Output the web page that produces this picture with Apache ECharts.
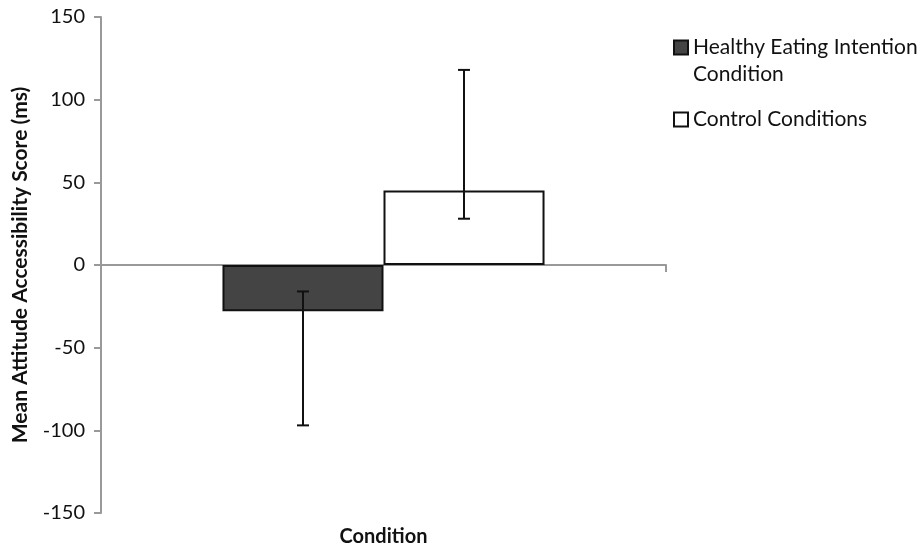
<!DOCTYPE html>
<html>
<head>
<meta charset="utf-8">
<script src="https://cdn.jsdelivr.net/npm/echarts@6/dist/echarts.min.js"></script>
<style>html,body{margin:0;padding:0;background:#fff;}#chart{width:923px;height:549px;}</style>
</head>
<body>
<div id="chart"></div>
<script>
const categories = ['Condition'];
const seriesNames = ['Healthy Eating Intention\nCondition', 'Control Conditions'];
const healthyValues = [-28];
const controlValues = [45];
const healthyErrLow = [-97];
const healthyErrHigh = [-16];
const controlErrLow = [28];
const controlErrHigh = [118];
const yTicks = { min: -150, max: 150, interval: 50 };

const BAR_FRAC = 0.285;
const FONT = 'Lato';

function errorSeries(lows, highs, side) {
  return {
    type: 'custom',
    xAxisIndex: 0,
    z: 10,
    silent: true,
    data: lows.map((l, i) => [i, l, highs[i]]),
    renderItem: function (params, api) {
      const band = api.size([1, 0])[0];
      const off = side * band * BAR_FRAC / 2;
      const lo = api.coord([api.value(0), api.value(1)]);
      const hi = api.coord([api.value(0), api.value(2)]);
      const x = lo[0] + off;
      const cap = 6;
      const style = { stroke: '#111', lineWidth: 2 };
      return {
        type: 'group',
        children: [
          { type: 'line', shape: { x1: x, y1: lo[1], x2: x, y2: hi[1] }, style: style },
          { type: 'line', shape: { x1: x - cap, y1: lo[1], x2: x + cap, y2: lo[1] }, style: style },
          { type: 'line', shape: { x1: x - cap, y1: hi[1], x2: x + cap, y2: hi[1] }, style: style }
        ]
      };
    }
  };
}

const legendText = { fontFamily: FONT, fontSize: 21, color: '#111', lineHeight: 27 };

const chart = echarts.init(document.getElementById('chart'));
chart.setOption({
  animation: false,
  textStyle: { fontFamily: FONT },
  grid: { left: 101, right: 257, top: 17, bottom: 36, containLabel: false, outerBoundsMode: 'none' },
  legend: [
    {
      orient: 'vertical',
      left: 673,
      top: 7,
      padding: 0,
      itemWidth: 14,
      itemHeight: 14,
      icon: 'rect',
      formatter: function (name) { return ' \n' + name; },
      textStyle: legendText,
      data: [seriesNames[0]]
    },
    {
      orient: 'vertical',
      left: 673,
      top: 106,
      padding: 0,
      itemWidth: 14,
      itemHeight: 14,
      icon: 'rect',
      textStyle: legendText,
      data: [seriesNames[1]]
    }
  ],
  xAxis: [
    {
      type: 'category',
      data: categories,
      axisLine: { onZero: true, lineStyle: { color: '#999', width: 2 } },
      axisTick: { show: true, length: 7, inside: false, lineStyle: { color: '#999', width: 2 } },
      axisLabel: { show: false }
    },
    {
      type: 'category',
      data: categories,
      position: 'bottom',
      axisLine: { show: false, onZero: false },
      axisTick: { show: false },
      axisLabel: { show: false },
      name: 'Condition',
      nameLocation: 'middle',
      nameGap: 14,
      nameTextStyle: { fontFamily: FONT, fontWeight: 'bold', fontSize: 20, color: '#111' }
    }
  ],
  yAxis: {
    type: 'value',
    min: yTicks.min,
    max: yTicks.max,
    interval: yTicks.interval,
    splitLine: { show: false },
    axisLine: { show: true, lineStyle: { color: '#999', width: 2 } },
    axisTick: { show: true, length: 7, lineStyle: { color: '#999', width: 2 } },
    axisLabel: { fontFamily: FONT, fontSize: 20, color: '#111', margin: 16 },
    name: 'Mean Attitude Accessibility Score (ms)',
    nameLocation: 'middle',
    nameGap: 70,
    nameTextStyle: { fontFamily: FONT, fontWeight: 'bold', fontSize: 21, color: '#111' }
  },
  series: [
    {
      name: seriesNames[0],
      type: 'bar',
      xAxisIndex: 0,
      data: healthyValues,
      barWidth: (BAR_FRAC * 100) + '%',
      barGap: '0%',
      itemStyle: { color: '#444444', borderColor: '#111', borderWidth: 2 }
    },
    {
      name: seriesNames[1],
      type: 'bar',
      xAxisIndex: 0,
      data: controlValues,
      barWidth: (BAR_FRAC * 100) + '%',
      barGap: '0%',
      itemStyle: { color: '#ffffff', borderColor: '#111', borderWidth: 2 }
    },
    errorSeries(healthyErrLow, healthyErrHigh, -1),
    errorSeries(controlErrLow, controlErrHigh, 1)
  ]
});
</script>
</body>
</html>
